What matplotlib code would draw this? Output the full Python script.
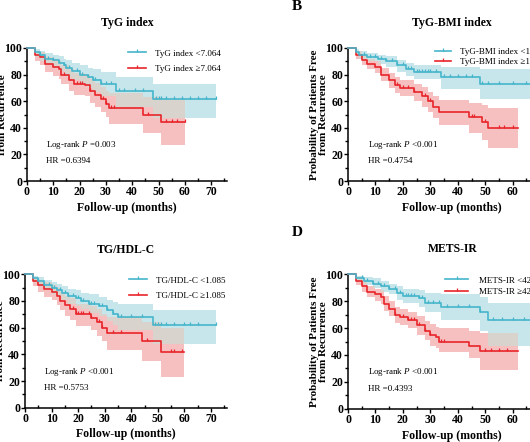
import matplotlib
matplotlib.use("Agg")
import matplotlib.pyplot as plt
from matplotlib.path import Path
from matplotlib.lines import Line2D
import numpy as np

plt.rcParams['font.family'] = ['Liberation Serif', 'DejaVu Serif']
plt.rcParams['mathtext.fontset'] = 'custom'
plt.rcParams['mathtext.it'] = 'Liberation Serif:italic'
plt.rcParams['mathtext.rm'] = 'Liberation Serif'

BLUE = '#45B5CB'
RED = '#E8252B'
BLUE_BAND = '#C6E6EC'
RED_BAND = '#F6BFC0'
GREY_BAND = '#D8D4CD'

# ---- data (survival %, 95% CI band, censored times) ----
# Panel A: TyG index
a_lo_t = [0, 3, 5, 7, 10, 12, 14, 15, 17, 20, 23, 25, 28, 34, 48]
a_lo_s = [100, 97, 95, 92, 91, 89, 87, 85, 83, 80, 78, 76, 73, 68, 62]
a_lo_l = [100, 93, 90, 87, 85, 83, 80, 78, 76, 72, 70, 67, 64, 56, 47]
a_lo_h = [100, 99, 98, 96, 95, 94, 92, 91, 89, 87, 85, 84, 82, 78, 73]
a_lo_end = 72
a_lo_cens = [5, 8, 10, 12, 14, 16, 19, 21, 23, 25, 26, 28, 30, 32, 35, 37, 41, 44,
             49, 50, 51, 53, 56, 59, 62, 65, 68, 72]
a_hi_t = [0, 3, 5, 7, 10, 12, 13, 16, 18, 22, 24, 26, 28, 30, 31, 44, 51]
a_hi_s = [100, 95, 93, 88, 86, 84, 80, 76, 73, 72, 68, 65, 62, 58, 55, 50, 44]
a_hi_l = [100, 90, 87, 82, 79, 77, 73, 68, 65, 64, 59, 56, 52, 48, 43, 36, 27]
a_hi_h = [100, 98, 97, 93, 92, 90, 87, 84, 81, 80, 77, 74, 71, 68, 66, 63, 61]
a_hi_end = 60
a_hi_cens = [14, 19, 20, 21, 24, 29, 30, 32, 33, 46, 53, 55, 57, 60]

# Panel B: TyG-BMI index
b_lo_t = [0, 3, 4, 7, 11, 14, 18, 21, 24, 34, 48]
b_lo_s = [100, 97, 95, 93, 92, 90, 87, 84, 82, 78, 73]
b_lo_l = [100, 95, 92, 90, 88, 86, 82, 79, 77, 69, 62]
b_lo_h = [100, 99, 98, 96, 95, 94, 91, 89, 87, 86, 84]
b_lo_end = 72
b_lo_cens = [6, 8, 10, 12, 14, 16, 18, 20, 22, 23, 25, 26, 27, 28, 29, 30, 32, 35,
             37, 40, 43, 45, 49, 51, 55, 60, 65, 70]
b_hi_t = [0, 3, 5, 7, 10, 12, 15, 17, 19, 24, 27, 29, 31, 33, 44, 49, 51]
b_hi_s = [100, 95, 91, 88, 86, 80, 76, 72, 70, 67, 64, 60, 56, 52, 48, 44, 40]
b_hi_l = [100, 92, 87, 84, 81, 75, 70, 66, 64, 60, 56, 52, 47, 42, 36, 31, 25]
b_hi_h = [100, 98, 95, 92, 90, 85, 81, 78, 76, 73, 71, 67, 64, 61, 59, 57, 55]
b_hi_end = 62
b_hi_cens = [18, 20, 22, 24, 28, 30, 45, 46, 50, 55, 57, 60]

# Panel C: TG/HDL-C
c_lo_t = [0, 3, 5, 7, 10, 12, 14, 16, 19, 21, 24, 28, 31, 33, 35, 48]
c_lo_s = [100, 97, 95, 92, 90, 88, 86, 84, 82, 80, 78, 76, 73, 70, 68, 62]
c_lo_l = [100, 94, 91, 88, 85, 83, 81, 78, 76, 74, 71, 69, 65, 62, 58, 48]
c_lo_h = [100, 99, 98, 96, 94, 93, 91, 89, 88, 86, 85, 83, 81, 79, 78, 73]
c_lo_end = 72
c_lo_cens = [5, 7, 9, 11, 13, 15, 16, 18, 20, 22, 24, 25, 26, 28, 29, 31, 33, 35,
             36, 40, 44, 49, 50, 51, 53, 56, 60, 62, 65, 72]
c_hi_t = [0, 3, 5, 7, 10, 12, 13, 15, 17, 19, 25, 27, 29, 31, 44, 51]
c_hi_s = [100, 95, 92, 89, 87, 84, 80, 77, 74, 70, 67, 64, 60, 56, 50, 42]
c_hi_l = [100, 91, 87, 83, 81, 77, 73, 69, 66, 61, 58, 54, 50, 43, 35, 23]
c_hi_h = [100, 98, 96, 94, 92, 90, 87, 84, 82, 78, 76, 74, 70, 68, 64, 60]
c_hi_end = 60
c_hi_cens = [18, 19, 20, 21, 22, 24, 25, 28, 29, 33, 36, 46, 55, 56, 59]

# Panel D: METS-IR
d_lo_t = [0, 3, 6, 9, 12, 15, 18, 20, 26, 28, 34, 48, 51]
d_lo_s = [100, 97, 95, 93, 91, 89, 86, 84, 82, 79, 76, 72, 66]
d_lo_l = [100, 95, 92, 90, 87, 85, 81, 79, 76, 72, 66, 58, 47]
d_lo_h = [100, 99, 98, 97, 95, 93, 91, 89, 88, 86, 85, 83, 79]
d_lo_end = 72
d_lo_cens = [5, 7, 9, 11, 13, 15, 17, 19, 21, 22, 23, 24, 26, 27, 29, 31, 33, 36,
             40, 44, 48, 53, 56, 60, 64, 68, 72]
d_hi_t = [0, 3, 5, 7, 10, 12, 13, 15, 17, 19, 22, 25, 28, 30, 32, 33, 44, 48]
d_hi_s = [100, 95, 91, 87, 85, 83, 78, 74, 70, 68, 66, 62, 58, 55, 53, 50, 47, 43]
d_hi_l = [100, 92, 87, 83, 80, 78, 73, 69, 64, 62, 60, 55, 51, 47, 45, 42, 38, 29]
d_hi_h = [100, 98, 95, 91, 89, 88, 84, 80, 76, 74, 72, 69, 65, 63, 61, 60, 58, 56]
d_hi_end = 62
d_hi_cens = [17, 20, 22, 23, 24, 26, 28, 30, 34, 35, 50, 52, 55, 58]

titles = ['TyG index', 'TyG-BMI index', 'TG/HDL-C', 'METS-IR']
legend_lo = ['TyG index <7.064', 'TyG-BMI index <168.5', 'TG/HDL-C <1.085', 'METS-IR <42.47']
legend_hi = ['TyG index \u22657.064', 'TyG-BMI index \u2265168.5', 'TG/HDL-C \u22651.085', 'METS-IR \u226542.47']
p_text = ['=0.003', '<0.001', '<0.001', '<0.001']
hr_text = ['HR =0.6394', 'HR =0.4754', 'HR =0.5753', 'HR =0.4393']
letters = ['A', 'B', 'C', 'D']

W, H = 530, 442
fig = plt.figure(figsize=(W / 100, H / 100), dpi=100)

# censor tick: short vertical stroke pointing up from the line
tick_marker = Path([(0, 0), (0, 1)])


def step_val(t, v, x):
    idx = np.searchsorted(t, x, side='right') - 1
    return np.asarray(v)[idx]


def draw_band(ax, t, s, lo, hi, end, cens, band):
    tt = np.append(t, end)
    ax.fill_between(tt, np.append(lo, lo[-1]), np.append(hi, hi[-1]),
                    step='post', color=band, lw=0, zorder=1)


def panel(rect, k, lo_curve, hi_curve, leg):
    x0, xr, yt, yb = rect
    ax = fig.add_axes([x0 / W, 1 - yb / H, (xr - x0) / W, (yb - yt) / H])
    # confidence bands
    draw_band(ax, *lo_curve, BLUE_BAND)
    draw_band(ax, *hi_curve, RED_BAND)
    # where the two bands overlap: grey
    grid = np.union1d(lo_curve[0], hi_curve[0])
    end = min(lo_curve[4], hi_curve[4])
    grid = np.append(grid[grid < end], end)
    ol = np.maximum(step_val(lo_curve[0], lo_curve[2], grid), step_val(hi_curve[0], hi_curve[2], grid))
    oh = np.minimum(step_val(lo_curve[0], lo_curve[3], grid), step_val(hi_curve[0], hi_curve[3], grid))
    oh = np.maximum(oh, ol)
    ax.fill_between(grid, ol, oh, step='post', color=GREY_BAND, lw=0, zorder=2)
    # lines and censor marks
    for (t, s, l, h, e, cens), col in ((hi_curve, RED), (lo_curve, BLUE)):
        ax.step(np.append(t, e), np.append(s, s[-1]), where='post', color=col, lw=1.2,
                zorder=4, clip_on=False)
        ax.plot(cens, step_val(t, s, np.asarray(cens)), ls='none', marker=tick_marker,
                ms=5, mew=0.9, mec=col, zorder=5, clip_on=False)

    ax.set_xlim(0, 76)
    ax.set_ylim(0, 100)
    ax.set_xticks(range(0, 80, 10))
    ax.set_xticks(range(5, 80, 10), minor=True)
    ax.set_yticks(range(0, 101, 20))
    ax.set_yticks(range(10, 100, 20), minor=True)
    for sp in ['top', 'right']:
        ax.spines[sp].set_visible(False)
    for sp in ['left', 'bottom']:
        ax.spines[sp].set_linewidth(1.1)
    ax.tick_params(axis='both', which='major', direction='out', length=3, width=1.0,
                   labelsize=8.5, pad=0.5)
    ax.tick_params(axis='x', which='minor', direction='in', length=2.5, width=1.0)
    ax.tick_params(axis='y', which='minor', direction='out', length=2, width=1.0)
    for lab in ax.get_xticklabels() + ax.get_yticklabels():
        lab.set_fontweight('bold')

    ax.text(0.5, 1.185, titles[k], transform=ax.transAxes, ha='center', va='center',
            fontsize=8.5, fontweight='bold')
    ax.set_xlabel('Follow-up (months)', fontsize=8.5, fontweight='bold')
    ax.xaxis.set_label_coords(0.5, -0.2)
    ax.xaxis.label.set_va('center')
    ax.set_ylabel('Probability of Patients Free\nfrom Recurrence', fontsize=8,
                  fontweight='bold', linespacing=1.1)
    ax.yaxis.set_label_coords(-29 / (xr - x0), 0.5)
    ax.yaxis.label.set_va('center')

    ax.text(0.095, 27, 'Log-rank $P$ ' + p_text[k], fontsize=6.5, va='center',
            transform=ax.get_yaxis_transform())
    ax.text(0.095, 15, hr_text[k], fontsize=6.5, va='center',
            transform=ax.get_yaxis_transform())

    handles = [Line2D([], [], color=BLUE, lw=1.2, marker=tick_marker, ms=5, mew=0.9),
               Line2D([], [], color=RED, lw=1.2, marker=tick_marker, ms=5, mew=0.9)]
    ax.legend(handles, [legend_lo[k], legend_hi[k]], loc='upper left',
              bbox_to_anchor=(leg[0], leg[1]), frameon=False, fontsize=6.5,
              borderpad=0, borderaxespad=0, handlelength=leg[2], handletextpad=leg[3],
              labelspacing=leg[4], numpoints=1)

    fig.text((x0 - 51) / W, 1 - (yt - 42) / H, letters[k], fontsize=11,
             fontweight='bold', ha='center', va='center')
    return ax


panel((27, 227, 48, 181), 0,
      (a_lo_t, a_lo_s, a_lo_l, a_lo_h, a_lo_end, a_lo_cens),
      (a_hi_t, a_hi_s, a_hi_l, a_hi_h, a_hi_end, a_hi_cens),
      (0.505, 0.99, 2.0, 1.0, 0.75))
panel((348, 556.6, 48, 181), 1,
      (b_lo_t, b_lo_s, b_lo_l, b_lo_h, b_lo_end, b_lo_cens),
      (b_hi_t, b_hi_s, b_hi_l, b_hi_h, b_hi_end, b_hi_cens),
      (0.417, 1.0, 1.8, 1.0, 0.2))
panel((25, 227, 274.3, 407.7), 2,
      (c_lo_t, c_lo_s, c_lo_l, c_lo_h, c_lo_end, c_lo_cens),
      (c_hi_t, c_hi_s, c_hi_l, c_hi_h, c_hi_end, c_hi_cens),
      (0.515, 0.985, 2.0, 1.0, 0.8))
panel((348, 556.6, 274.3, 408.7), 3,
      (d_lo_t, d_lo_s, d_lo_l, d_lo_h, d_lo_end, d_lo_cens),
      (d_hi_t, d_hi_s, d_hi_l, d_hi_h, d_hi_end, d_hi_cens),
      (0.465, 0.985, 2.6, 1.2, 0.35))

fig.savefig('out.png', dpi=100)
